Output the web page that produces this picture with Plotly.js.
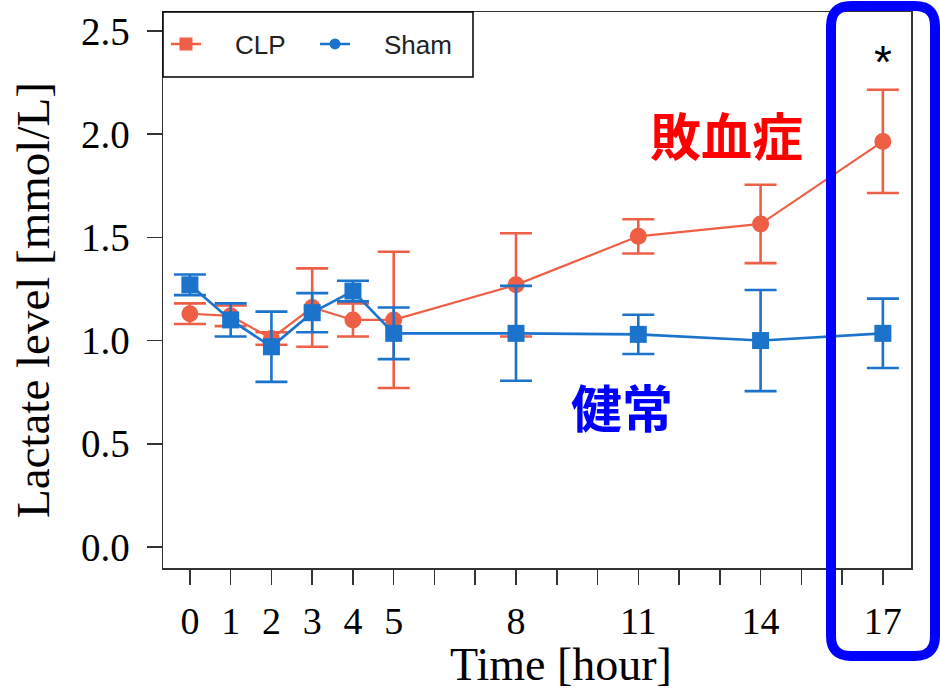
<!DOCTYPE html>
<html>
<head>
<meta charset="utf-8">
<script src="https://cdn.plot.ly/plotly-3.0.1.min.js"></script>
<style>html,body{margin:0;padding:0;background:#fff;}</style>
</head>
<body>
<div id="chart" style="width:940px;height:692px;"></div>
<script>
// ---- data ----
const hours = [0, 1, 2, 3, 4, 5, 8, 11, 14, 17];
const clpMean = [1.13, 1.12, 1.01, 1.16, 1.10, 1.10, 1.27, 1.505, 1.565, 1.965];
const clpErr  = [0.05, 0.05, 0.03, 0.19, 0.08, 0.33, 0.25, 0.083, 0.19, 0.25];
const shamMean = [1.27, 1.10, 0.97, 1.135, 1.24, 1.035, 1.035, 1.03, 1.00, 1.035];
const shamErr  = [0.05, 0.08, 0.17, 0.095, 0.05, 0.125, 0.23, 0.095, 0.245, 0.168];
const tickHours = [0,1,2,3,4,5,6,7,8,9,10,11,12,13,14,15,16,17];
const tickLabels = ["0","1","2","3","4","5","","","8","","","11","","","14","","","17"];
const yTicks = [0, 0.5, 1.0, 1.5, 2.0, 2.5];
const yTickLabels = ["0.0","0.5","1.0","1.5","2.0","2.5"];
const xTitle = 'Time [hour]';
const yTitle = 'Lactate level [mmol/L]';
const seriesNames = ['CLP', 'Sham'];

const RED = '#EE5F45';
const BLUE = '#1B73CC';
const pad = '\u00a0\u00a0\u00a0\u00a0';

const traces = [
  {
    x: hours, y: clpMean, name: seriesNames[0], type: 'scatter', mode: 'lines+markers',
    line: {color: RED, width: 2.2},
    marker: {color: RED, symbol: 'circle', size: 17},
    error_y: {type: 'data', array: clpErr, visible: true, color: RED, thickness: 2.6, width: 16},
    showlegend: false
  },
  {
    x: hours, y: shamMean, name: seriesNames[1], type: 'scatter', mode: 'lines+markers',
    line: {color: BLUE, width: 2.6},
    marker: {color: BLUE, symbol: 'square', size: 17},
    error_y: {type: 'data', array: shamErr, visible: true, color: BLUE, thickness: 2.6, width: 16},
    showlegend: false
  },
  // legend entries (as in the reference: CLP square, Sham circle)
  {x: [null], y: [null], name: pad + seriesNames[0], type: 'scatter', mode: 'lines+markers',
   line: {color: RED, width: 2.5}, marker: {color: RED, symbol: 'square', size: 13}},
  {x: [null], y: [null], name: pad + seriesNames[1], type: 'scatter', mode: 'lines+markers',
   line: {color: BLUE, width: 2.5}, marker: {color: BLUE, symbol: 'circle', size: 11}}
];

// pixel -> paper helpers (plot area: x 163..911, y 12..568)
function px2paperX(p){ return (p - 163) / 748; }
function px2paperY(p){ return (568 - p) / 556; }

// Rounded highlight box
const bx0 = 831, bx1 = 935, by0 = 6, by1 = 656, r = 20;
const path = [
  'M', px2paperX(bx0 + r), px2paperY(by0),
  'L', px2paperX(bx1 - r), px2paperY(by0),
  'Q', px2paperX(bx1), px2paperY(by0), px2paperX(bx1), px2paperY(by0 + r),
  'L', px2paperX(bx1), px2paperY(by1 - r),
  'Q', px2paperX(bx1), px2paperY(by1), px2paperX(bx1 - r), px2paperY(by1),
  'L', px2paperX(bx0 + r), px2paperY(by1),
  'Q', px2paperX(bx0), px2paperY(by1), px2paperX(bx0), px2paperY(by1 - r),
  'L', px2paperX(bx0), px2paperY(by0 + r),
  'Q', px2paperX(bx0), px2paperY(by0), px2paperX(bx0 + r), px2paperY(by0),
  'Z'
].join(' ');

const serif = 'Liberation Serif, Times New Roman, serif';

const layout = {
  width: 940, height: 692,
  margin: {l: 163, r: 29, t: 12, b: 124},
  paper_bgcolor: '#fff', plot_bgcolor: '#fff',
  showlegend: true,
  legend: {
    orientation: 'h', x: px2paperX(166), y: px2paperY(44), xanchor: 'left', yanchor: 'middle',
    bgcolor: 'rgba(0,0,0,0)', borderwidth: 0,
    font: {family: 'Liberation Sans, Arial, sans-serif', size: 26, color: '#222'},
    entrywidth: 104, entrywidthmode: 'pixels'
  },
  xaxis: {
    range: [-0.66, 17.69], showgrid: false, zeroline: false,
    showline: true, linecolor: '#333', linewidth: 1.5, mirror: true,
    ticks: 'outside', ticklen: 15, tickwidth: 1.5, tickcolor: '#333',
    tickmode: 'array', tickvals: tickHours, ticktext: tickLabels,
    ticklabelstandoff: 4,
    tickfont: {family: serif, size: 38, color: '#000'}
  },
  yaxis: {
    range: [-0.102, 2.592], showgrid: false, zeroline: false,
    showline: true, linecolor: '#333', linewidth: 1.5, mirror: true,
    ticks: 'outside', ticklen: 15, tickwidth: 1.5, tickcolor: '#333',
    tickmode: 'array', tickvals: yTicks, ticktext: yTickLabels,
    ticklabelstandoff: 9,
    tickfont: {family: serif, size: 39, color: '#000'}
  },
  annotations: [
    {x: px2paperX(561), y: px2paperY(664), xref: 'paper', yref: 'paper', text: xTitle,
     showarrow: false, xanchor: 'center', yanchor: 'middle',
     font: {family: serif, size: 46, color: '#000'}},
    {x: px2paperX(33), y: px2paperY(300), xref: 'paper', yref: 'paper', text: yTitle,
     showarrow: false, xanchor: 'center', yanchor: 'middle', textangle: -90,
     font: {family: serif, size: 47, color: '#000'}},
    {x: 13.17, y: 2.0, xref: 'x', yref: 'y', text: '<b>敗血症</b>', showarrow: false,
     font: {family: 'Noto Sans CJK JP', size: 51, color: '#FF0000'}},
    {x: 10.6, y: 0.685, xref: 'x', yref: 'y', text: '<b>健常</b>', showarrow: false,
     font: {family: 'Noto Sans CJK JP', size: 51, color: '#0000FF'}},
    {x: 17, y: 2.35, xref: 'x', yref: 'y', text: '*', showarrow: false,
     font: {family: 'Liberation Sans, Arial, sans-serif', size: 46, color: '#000'}}
  ],
  shapes: [
    {type: 'rect', xref: 'paper', yref: 'paper',
     x0: 0, x1: px2paperX(473), y0: px2paperY(77), y1: 1,
     line: {color: '#000', width: 1.5}, fillcolor: '#fff', layer: 'above'},
    {type: 'path', xref: 'paper', yref: 'paper', path: path,
     line: {color: '#0000FF', width: 10}, fillcolor: 'rgba(0,0,0,0)', layer: 'above'}
  ]
};

Plotly.newPlot('chart', traces, layout, {displayModeBar: false, staticPlot: true});
</script>
</body>
</html>
